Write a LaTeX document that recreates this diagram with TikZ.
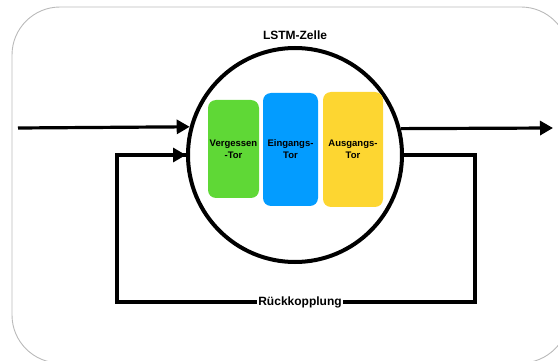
\documentclass[tikz,border=0pt]{standalone}
\usepackage{fontspec}
\setsansfont{Liberation Sans}
\usetikzlibrary{arrows.meta}

\definecolor{torgruen}{HTML}{5FD836}
\definecolor{torblau}{HTML}{039CFF}
\definecolor{torgelb}{HTML}{FDD631}

\tikzset{
  tor/.style={rounded corners=8pt, inner sep=0pt, align=center,
    font=\sffamily\bfseries\fontsize{9.5}{12}\selectfont},
  pfeil/.style={line width=3.2pt, -{Triangle[length=13pt,width=14pt]}},
  linie/.style={line width=3.4pt}
}

\begin{document}
\begin{tikzpicture}[x=1pt,y=-1pt]
        \useasboundingbox (0,0) rectangle (558,361);
        \clip (0,0) rectangle (558,361);
        \draw[color=black!27, line width=0.9pt, rounded corners=48pt] (12,7) rectangle (569,363);
        \node[draw, circle, line width=4pt, minimum size=214pt, inner sep=0pt] (zelle) at (295,155) {};
        \node[font=\sffamily\bfseries\fontsize{12}{14}\selectfont] (titel) at (295,35) {LSTM-Zelle};
        \node[tor, fill=torgruen, minimum width=51pt, minimum height=98pt] (vergessen) at (233.5,149) {Vergessen\\-Tor};
        \node[tor, fill=torblau, minimum width=55pt, minimum height=113pt] (eingang) at (290.5,149.5) {Eingangs-\\Tor};
        \node[tor, fill=torgelb, minimum width=60pt, minimum height=115pt] (ausgang) at (353,149.5) {Ausgangs-\\Tor};
        \coordinate (ein) at (18,128);
        \coordinate (aus) at (553,128);
        \coordinate (rechtsoben) at (475,155);
        \coordinate (rechtsunten) at (475,302);
        \coordinate (linksunten) at (117,302);
        \coordinate (linksoben) at (117,155);
        \draw[pfeil] (ein) -- (zelle.165.7);
        \draw[pfeil] (zelle.14.3) -- (aus);
        \draw[linie, line join=miter] (zelle.east) -- (rechtsoben) -- (rechtsunten) -- (linksunten) -- (linksoben) -- (zelle.west);
        \draw[pfeil] (linksoben) -- (zelle.west);
        \node[fill=white, inner sep=1.5pt, font=\sffamily\bfseries\fontsize{12}{14}\selectfont] (rueck) at (300,302) {Rückkopplung};
\end{tikzpicture}
\end{document}
